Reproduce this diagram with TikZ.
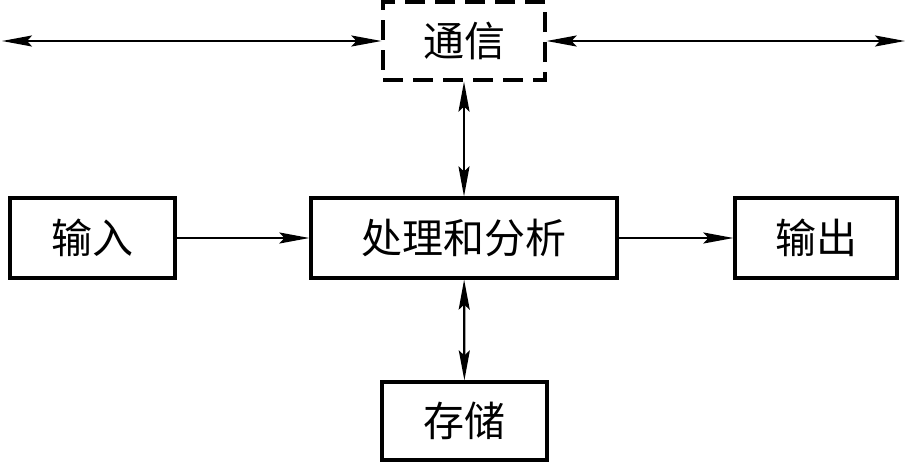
\documentclass[tikz,border=0pt]{standalone}
\usepackage{fontspec}
\setmainfont{Noto Sans CJK SC}
\usetikzlibrary{arrows.meta}

\begin{document}
\begin{tikzpicture}[x=1pt, y=-1pt,
	block/.style={draw, line width=3.2pt, inner sep=0pt, font=\fontsize{41}{44}\selectfont},
	link/.style={line width=2.2pt, {Stealth[length=30pt,width=11pt,inset=5pt]}-{Stealth[length=30pt,width=11pt,inset=5pt]}},
	flow/.style={line width=2.2pt, -{Stealth[length=30pt,width=11pt,inset=5pt]}}]
	\useasboundingbox (0,0) rectangle (907,463);
	
	\node[block, dash pattern=on 20pt off 10pt, minimum width=162pt, minimum height=78pt] (comm) at (464,41) {通信};
	\node[block, minimum width=165pt, minimum height=80pt] (in) at (92.5,238) {输入};
	\node[block, minimum width=306pt, minimum height=80pt] (proc) at (464,238) {处理和分析};
	\node[block, minimum width=162pt, minimum height=80pt] (out) at (816,238) {输出};
	\node[block, minimum width=165pt, minimum height=78pt] (store) at (464.5,421) {存储};
	
	\coordinate (l) at (2,41);
	\coordinate (r) at (905,41);
	
	\draw[link] (l) -- (comm.west);
	\draw[link] (comm.east) -- (r);
	\draw[link] (comm) -- (proc);
	\draw[link] (proc) -- (store);
	\draw[flow] (in) -- (proc);
	\draw[flow] (proc) -- (out);
\end{tikzpicture}
\end{document}
